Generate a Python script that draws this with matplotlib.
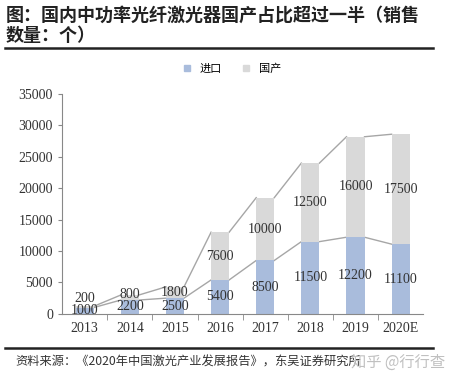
import matplotlib.pyplot as plt
import numpy as np
from matplotlib.lines import Line2D

plt.rcParams['font.family'] = ['Liberation Serif', 'Noto Sans CJK SC']

years = ['2013', '2014', '2015', '2016', '2017', '2018', '2019', '2020E']
imported = [1000, 2200, 2500, 5400, 8500, 11500, 12200, 11100]
domestic = [200, 800, 1800, 7600, 10000, 12500, 16000, 17500]

c_imp = '#A9BCDC'
c_dom = '#D9D9D9'
c_line = '#A6A6A6'

fig = plt.figure(figsize=(4.57, 3.87), dpi=100)
ax = fig.add_axes([0.136, 0.189, 0.790, 0.568])

x = np.arange(len(years))
w = 0.4
imp = np.array(imported)
tot = imp + np.array(domestic)
ax.bar(x, imp, w, color=c_imp, zorder=2)
ax.bar(x, domestic, w, bottom=imp, color=c_dom, zorder=2)

# series lines between bars
for i in range(len(x) - 1):
    for v in (imp, tot):
        ax.plot([x[i] + w / 2, x[i + 1] - w / 2], [v[i], v[i + 1]],
                color=c_line, lw=1, zorder=1)

for i in range(len(x)):
    yi = imp[i] / 2
    yd = imp[i] + domestic[i] / 2
    if yd - yi < 2000:
        yd = yi + 2000
    ax.text(x[i], yi, str(imported[i]), ha='center', va='center',
            fontsize=10, color='#333333', zorder=3)
    ax.text(x[i], yd, str(domestic[i]), ha='center', va='center',
            fontsize=10, color='#333333', zorder=3)

ax.set_xlim(-0.5, 7.5)
ax.set_ylim(0, 35000)
ax.set_yticks(range(0, 35001, 5000))
ax.set_xticks(x)
ax.set_xticklabels(years)
ax.set_xticks(np.arange(0.5, 7.5, 1), minor=True)
ax.tick_params(axis='x', which='major', length=0, labelsize=10, colors='#333333', pad=6)
ax.tick_params(axis='x', which='minor', length=4, color='#888888', direction='out')
ax.tick_params(axis='y', length=3, color='#888888', labelsize=10, labelcolor='#333333')
for s in ('top', 'right'):
    ax.spines[s].set_visible(False)
ax.spines['left'].set_color('#888888')
ax.spines['bottom'].set_color('#888888')

handles = [Line2D([], [], marker='s', ls='', color=c_imp, markersize=5),
           Line2D([], [], marker='s', ls='', color=c_dom, markersize=5)]
fig.legend(handles, ['进口', '国产'], loc='center', bbox_to_anchor=(0.5, 0.823),
           ncol=2, frameon=False, handletextpad=0.1, columnspacing=1.2,
           prop={'family': 'Noto Sans CJK SC', 'size': 8})

fig.text(0.012, 0.962, '图：国内中功率光纤激光器国产占比超过一半（销售',
         fontsize=13, fontweight='bold', family='Noto Sans CJK SC', va='center', color='#222222')
fig.text(0.012, 0.907, '数量：个）',
         fontsize=13, fontweight='bold', family='Noto Sans CJK SC', va='center', color='#222222')
fig.add_artist(Line2D([0.011, 0.948], [0.876, 0.876], color='#222222', lw=1.8))
fig.add_artist(Line2D([0.011, 0.948], [0.101, 0.101], color='#222222', lw=1.8))
fig.text(0.033, 0.064, '资料来源：《2020年中国激光产业发展报告》，东吴证券研究所',
         fontsize=8.8, family='Noto Sans CJK SC', va='center', color='#333333')
fig.text(0.975, 0.064, '知乎 @行行查', fontsize=11, family='Noto Sans CJK SC',
         va='center', ha='right', color='#C0C0C0')

fig.savefig('out.png', dpi=100)
